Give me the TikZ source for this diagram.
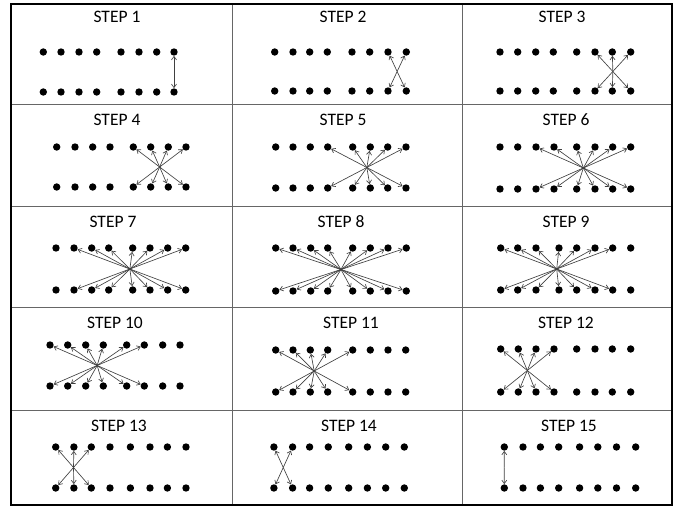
\documentclass[tikz,border=0pt]{standalone}
\usepackage{fontspec}
\setmainfont{Carlito}
\usetikzlibrary{arrows.meta,calc}
\tikzset{
  dotnode/.style={circle,fill=black,inner sep=0pt,minimum size=7.4pt},
  link/.style={draw=black!75, line width=0.65pt, -{Straight Barb[length=3.4pt,width=5pt]}},
  steplabel/.style={font=\fontsize{17.5}{19}\selectfont, inner sep=0pt},
  frame/.style={line width=1.7pt},
  gridline/.style={draw=black!60, line width=0.9pt}
}
% #1 step, #2 label x, #3 label y, #4 top dots y, #5 bottom dots y, #6 x list, #7 first, #8 last
\newcommand\stepcell[8]{%
  \node[steplabel] (lab#1) at (#2,#3) {STEP #1};
  \foreach \xx [count=\i] in {#6} {
    \node[dotnode] (t#1-\i) at (\xx,#4) {};
    \node[dotnode] (b#1-\i) at (\xx,#5) {};
  }
  \coordinate (c#1) at ($(t#1-#7)!0.5!(b#1-#8)$);
  \foreach \j in {#7,...,#8} {
    \draw[link] (c#1) -- (t#1-\j);
    \draw[link] (c#1) -- (b#1-\j);
  }
}
\begin{document}
\begin{tikzpicture}[x=1pt,y=-1pt]
\useasboundingbox (0,0) rectangle (683,508);
% grid
\draw[gridline] (232,4) -- (232,505) (462,4) -- (462,505);
\draw[gridline] (11,104) -- (672,104) (11,206) -- (672,206) (11,307) -- (672,307) (11,410) -- (672,410);
\draw[frame] (11,4) rectangle (672,505);
% row 1
\stepcell{1}{117}{17}{52}{92}{43.3,61,79,96.7,121,139,156.7,174}{8}{8}
\stepcell{2}{343}{17}{52}{91}{274.7,293,309.7,327.3,352,369.7,388,406.3}{7}{8}
\stepcell{3}{562}{17}{52}{91}{500,517.7,535.7,553.3,576.7,595,612.3,630.7}{6}{8}
% row 2
\stepcell{4}{117}{120}{147}{187}{56.7,75,92.7,110,133.3,150.7,168.3,186}{5}{8}
\stepcell{5}{343}{120}{147}{188}{275.7,293,310.3,327.7,352.7,370.3,387.7,406}{4}{8}
\stepcell{6}{566}{120}{147}{189}{500,517.7,536,554,576.7,595,612.7,630.7}{3}{8}
% row 3
\stepcell{7}{113}{222}{248}{290}{56,74,91.7,108.7,132.7,150,167.7,185.7}{2}{8}
\stepcell{8}{341}{222}{248}{291}{275.7,293,310.7,327.7,352.7,370.3,388,406.3}{1}{8}
\stepcell{9}{566}{222}{248}{290}{500.7,517.7,536,559,576.7,595,612.7,630.7}{1}{7}
% row 4
\stepcell{10}{115}{323}{345}{386}{50,67.7,85.7,103.3,126.7,144.3,162.7,180}{1}{6}
\stepcell{11}{351}{323}{350}{392}{275.7,293,310.3,327.7,352.7,370.3,388,405.7}{1}{5}
\stepcell{12}{566}{323}{349}{392}{500.7,518.3,536,554,576.7,595,612.3,630.7}{1}{4}
% row 5
\stepcell{13}{119}{426}{447}{488}{55.7,73.9,91.3,110,130.4,150,167.4,186}{1}{3}
\stepcell{14}{349}{426}{447}{488}{273.9,292.6,309.6,328.3,348.7,367.4,385.7,404.3}{1}{2}
\stepcell{15}{569}{426}{447}{488}{504.3,523,540.4,558.7,579.6,597.8,616.5,635.7}{1}{1}
\end{tikzpicture}
\end{document}
